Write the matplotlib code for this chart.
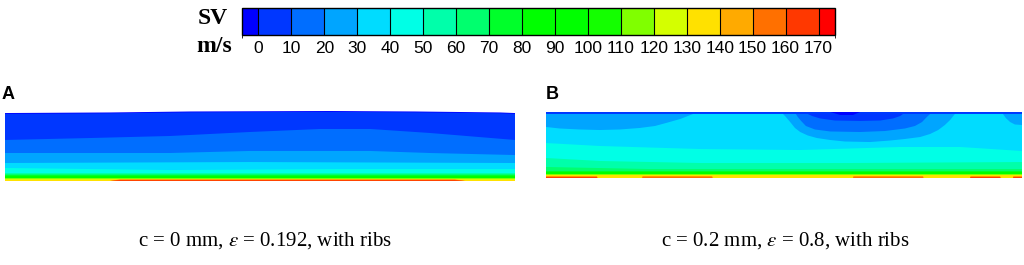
import matplotlib
matplotlib.use('Agg')
import matplotlib.pyplot as plt
from matplotlib.colors import ListedColormap, BoundaryNorm
from matplotlib.cm import ScalarMappable

plt.rcParams['mathtext.fontset'] = 'stix'

# colour bands of the legend (velocity, m/s)
ticks = [0, 10, 20, 30, 40, 50, 60, 70, 80, 90, 100, 110, 120, 130, 140, 150, 160, 170]
bounds = [-5] + ticks + [175]
colors = ['#0000ff', '#0037ff', '#006eff', '#00a5ff', '#00dcff', '#00ffe6', '#00ffaa',
          '#00ff6e', '#00ff2a', '#00ff00', '#00ff00', '#14ff00', '#80ff00', '#d4ff00',
          '#ffe100', '#ffaa00', '#ff7000', '#ff3800', '#ff0000']

# contour levels (m/s); for each level the height (0 = bottom wall, 1 = top)
# where the velocity crosses it, along the channel (0-100 %)
levels = [0, 10, 20, 30, 40, 50, 60, 70, 80, 90, 100, 110, 120, 130, 140, 150, 160]

# panel A: c = 0 mm
a_top_x = [0, 20.6, 36.3, 63.7, 80.4, 97.1, 100]
a_top_y = [0.971, 0.979, 0.993, 1.0, 0.993, 0.979, 0.971]
a_lines_x = [
    [0, 20.6, 36.3, 63.7, 80.4, 97.1, 100],
    [0, 16.7, 32.4, 48.0, 61.8, 71.6, 83.3, 100],
    [0, 16.7, 32.4, 48.0, 61.8, 71.6, 83.3, 100],
    [0, 48.0, 100],
    [0, 32.4, 65.7, 100],
    [0, 100], [0, 100], [0, 100], [0, 100], [0, 100], [0, 100], [0, 100], [0, 100],
    [0, 18.6, 22.5, 88.2, 91.2, 100],
    [0, 20.6, 22.5, 88.2, 90.2, 100],
    [0, 20.6, 22.5, 88.2, 90.2, 100],
    [0, 20.6, 22.5, 88.2, 90.2, 100],
]
a_lines_y = [
    [0.959, 0.967, 0.981, 0.988, 0.981, 0.967, 0.959],
    [0.586, 0.614, 0.643, 0.700, 0.743, 0.743, 0.686, 0.586],
    [0.400, 0.400, 0.400, 0.429, 0.429, 0.429, 0.400, 0.371],
    [0.257, 0.271, 0.257],
    [0.186, 0.157, 0.171, 0.171],
    [0.121, 0.121], [0.100, 0.100], [0.081, 0.081], [0.067, 0.067],
    [0.057, 0.057], [0.049, 0.049], [0.040, 0.040], [0.031, 0.031],
    [0.017, 0.017, 0.028, 0.028, 0.017, 0.017],
    [0, 0, 0.024, 0.024, 0, 0],
    [0, 0, 0.018, 0.018, 0, 0],
    [0, 0, 0.011, 0.011, 0, 0],
]

# panel B: c = 0.2 mm
b_top_x = [0, 100]
b_top_y = [1.0, 1.0]
patch_x = [0, 10.7, 10.8, 20.2, 20.3, 34.9, 35.0, 64.5, 64.6, 79.2, 79.3, 89.1, 89.2,
           95.4, 95.5, 98.1, 98.2, 100]
b_lines_x = [
    [0, 59.7, 61.8, 64.5, 66.0, 100],
    [0, 55.0, 55.9, 57.6, 60.7, 66.0, 70.2, 72.9, 74.4, 75.0, 100],
    [0, 52.5, 52.9, 53.6, 54.6, 56.5, 59.7, 66.0, 71.2, 75.4, 77.5, 79.0, 80.0, 80.7, 100],
    [0, 2.9, 7.1, 11.3, 15.5, 19.7, 22.9, 25.6, 28.2, 29.8, 30.9,
     49.8, 50.4, 51.3, 52.3, 53.4, 55.0, 56.9, 59.7, 62.8, 68.1, 72.3, 75.4, 78.6,
     80.7, 82.4, 83.8, 84.9, 85.9,
     96.0, 96.6, 97.5, 98.5, 100],
    [0, 11.3, 32.4, 53.4, 74.4, 87.0, 100],
    [0, 11.3, 32.4, 63.9, 100],
    [0, 21.8, 100],
    [0, 100], [0, 100], [0, 100], [0, 100], [0, 100], [0, 100], [0, 100],
    patch_x, patch_x, patch_x,
]
b_lines_y = [
    [1.0, 1.0, 0.955, 0.955, 1.0, 1.0],
    [0.970, 0.970, 0.939, 0.902, 0.871, 0.864, 0.871, 0.902, 0.939, 0.970, 0.970],
    [0.970, 0.970, 0.924, 0.864, 0.788, 0.735, 0.705, 0.697, 0.712, 0.750, 0.788,
     0.848, 0.924, 0.970, 0.970],
    [0.773, 0.750, 0.735, 0.727, 0.735, 0.758, 0.788, 0.841, 0.894, 0.939, 0.970,
     0.970, 0.924, 0.848, 0.758, 0.697, 0.644, 0.606, 0.576, 0.553, 0.545, 0.568,
     0.591, 0.621, 0.667, 0.727, 0.803, 0.879, 0.970,
     0.970, 0.909, 0.848, 0.811, 0.803],
    [0.530, 0.485, 0.439, 0.424, 0.470, 0.470, 0.409],
    [0.303, 0.258, 0.227, 0.227, 0.242],
    [0.167, 0.136, 0.136],
    [0.106, 0.106], [0.091, 0.091], [0.079, 0.079], [0.068, 0.068],
    [0.058, 0.058], [0.048, 0.048], [0.039, 0.039],
    [0.03, 0.03, 0, 0, 0.03, 0.03, 0, 0, 0.03, 0.03, 0, 0, 0.03, 0.03, 0, 0, 0.03, 0.03],
    [0.02, 0.02, 0, 0, 0.02, 0.02, 0, 0, 0.02, 0.02, 0, 0, 0.02, 0.02, 0, 0, 0.02, 0.02],
    [0.012, 0.012, 0, 0, 0, 0, 0, 0, 0, 0, 0, 0, 0.012, 0.012, 0, 0, 0.012, 0.012],
]

W, H = 1024, 265
fig = plt.figure(figsize=(W / 100, H / 100), dpi=100)


def px_axes(x0, y0, x1, y1):
    return fig.add_axes([x0 / W, 1 - y1 / H, (x1 - x0) / W, (y1 - y0) / H])


def draw_panel(ax, top_x, top_y, lines_x, lines_y):
    ax.fill(top_x + [100, 0], top_y + [0, 0], color=colors[0], ec='none')
    for lev, xs, ys in zip(levels, lines_x, lines_y):
        ax.fill(xs + [100, 0], ys + [0, 0], color=colors[1 + lev // 10], ec='none')
    ax.set_xlim(0, 100)
    ax.set_ylim(0, 1)
    ax.axis('off')


# legend bar
cmap = ListedColormap(colors)
norm = BoundaryNorm(bounds, cmap.N)
cax = px_axes(242, 8, 835, 35)
cb = fig.colorbar(ScalarMappable(norm=norm, cmap=cmap), cax=cax, orientation='horizontal',
                  boundaries=bounds, ticks=ticks, spacing='proportional', drawedges=True)
cb.outline.set_linewidth(1.0)
cb.outline.set_edgecolor('black')
cb.dividers.set_color('black')
cb.dividers.set_linewidth(0.8)
cax.tick_params(length=0, pad=4)
for t in cax.get_xticklabels():
    t.set_fontfamily('Liberation Sans')
    t.set_fontsize(12.5)

fig.text(213 / W, 1 - 18 / H, 'SV', ha='center', va='center', fontsize=17,
         fontweight='bold', family='Liberation Serif')
fig.text(214 / W, 1 - 47 / H, 'm/s', ha='center', va='center', fontsize=17,
         fontweight='bold', family='Liberation Serif')

# panels
ax_a = px_axes(5, 111, 515, 181)
draw_panel(ax_a, a_top_x, a_top_y, a_lines_x, a_lines_y)
ax_b = px_axes(546, 112, 1022, 178)
draw_panel(ax_b, b_top_x, b_top_y, b_lines_x, b_lines_y)

fig.text(2 / W, 1 - 95 / H, 'A', ha='left', va='center', fontsize=13,
         fontweight='bold', family='Liberation Sans')
fig.text(546 / W, 1 - 95 / H, 'B', ha='left', va='center', fontsize=13,
         fontweight='bold', family='Liberation Sans')

fig.text(265 / W, 1 - 241 / H, r'c = 0 mm, $\varepsilon$ = 0.192, with ribs', ha='center',
         va='center', fontsize=15, family='Liberation Serif')
fig.text(785 / W, 1 - 241 / H, r'c = 0.2 mm, $\varepsilon$ = 0.8, with ribs', ha='center',
         va='center', fontsize=15, family='Liberation Serif')

fig.savefig('out.png', dpi=100)
